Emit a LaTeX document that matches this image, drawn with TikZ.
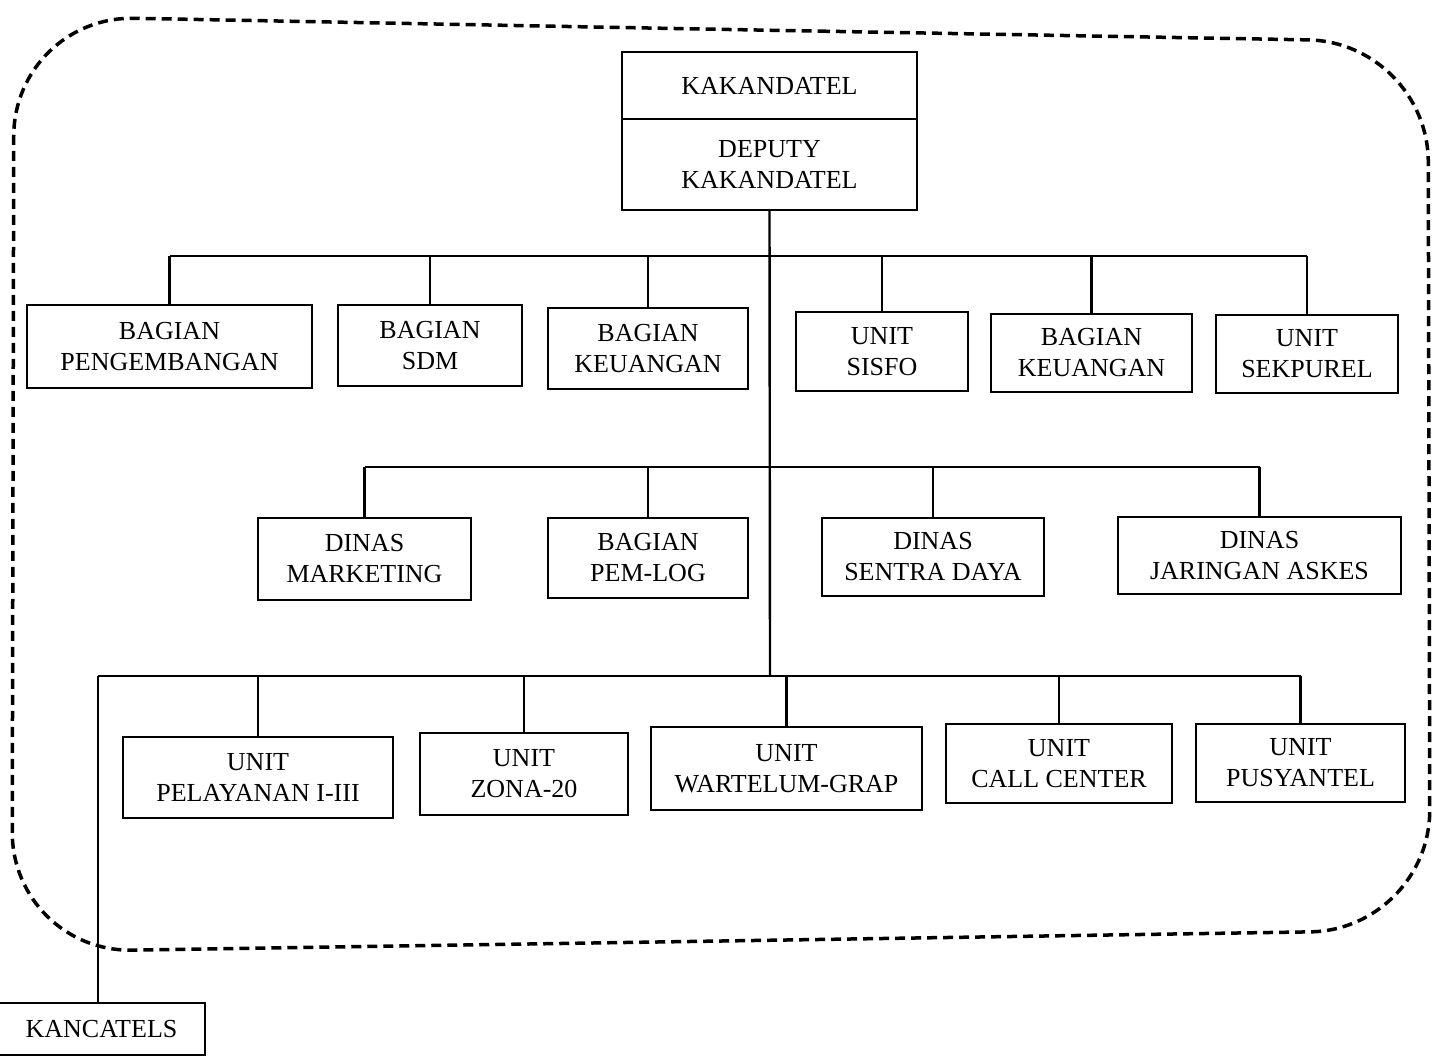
\documentclass[tikz,border=0pt]{standalone}
\usepackage{fontspec}
\setmainfont{Liberation Serif}
\begin{document}
\begin{tikzpicture}[x=1pt,y=-1pt,
  box/.style={draw, line width=2.4pt, align=center, font=\fontsize{26}{31}\selectfont, inner sep=0pt, fill=white},
  conn/.style={line width=2.4pt},
  border/.style={line width=3.5pt, dash pattern=on 10pt off 6pt, rounded corners=120pt}]
\useasboundingbox (0,0) rectangle (1434,1058);
\clip (0,0) rectangle (1434,1058);
\fill[white] (0,0) rectangle (1434,1058);
% dashed boundary
\draw[border] (700,29) -- (1428,42) -- (1430,930) -- (12,952) -- (14,16) -- cycle;
% top
\node[box, minimum width=295pt, minimum height=67pt] (kak) at (769.5,85.5) {KAKANDATEL};
\node[box, minimum width=295pt, minimum height=91pt] (dep) at (769.5,164.5) {DEPUTY\\KAKANDATEL};
% row 1
\node[box, minimum width=285pt, minimum height=83pt] (b1) at (169.5,346.5) {BAGIAN\\PENGEMBANGAN};
\node[box, minimum width=184pt, minimum height=81pt] (b2) at (430,345.5) {BAGIAN\\SDM};
\node[box, minimum width=200pt, minimum height=81pt] (b3) at (648,348.5) {BAGIAN\\KEUANGAN};
\node[box, minimum width=172pt, minimum height=79pt] (b4) at (882,351.5) {UNIT\\SISFO};
\node[box, minimum width=201pt, minimum height=78pt] (b5) at (1091.5,353) {BAGIAN\\KEUANGAN};
\node[box, minimum width=182pt, minimum height=78pt] (b6) at (1307,354) {UNIT\\SEKPUREL};
% row 2
\node[box, minimum width=213pt, minimum height=82pt] (c1) at (364.5,559) {DINAS\\MARKETING};
\node[box, minimum width=200pt, minimum height=80pt] (c2) at (648,558) {BAGIAN\\PEM-LOG};
\node[box, minimum width=222pt, minimum height=78pt] (c3) at (933,557) {DINAS\\SENTRA DAYA};
\node[box, minimum width=283pt, minimum height=77pt] (c4) at (1259.5,555.5) {DINAS\\JARINGAN ASKES};
% row 3
\node[box, minimum width=270pt, minimum height=81pt] (d1) at (258,777.5) {UNIT\\PELAYANAN I-III};
\node[box, minimum width=208pt, minimum height=82pt] (d2) at (524,774) {UNIT\\ZONA-20};
\node[box, minimum width=271pt, minimum height=83pt] (d3) at (786.5,768.5) {UNIT\\WARTELUM-GRAP};
\node[box, minimum width=226pt, minimum height=79pt] (d4) at (1059,763.5) {UNIT\\CALL CENTER};
\node[box, minimum width=209pt, minimum height=78pt] (d5) at (1300.5,763) {UNIT\\PUSYANTEL};
% kancatels
\node[box, minimum width=225pt, minimum height=52pt] (k) at (92.5,1029) {\hspace*{18pt}KANCATELS};
% bus coordinates
\coordinate (bus1) at (770,256);
\coordinate (bus2) at (770,467);
\coordinate (bus3) at (770,676);
\coordinate (kx) at (98,676);
% trunk
\draw[conn] (dep.south) -- (bus3);
% row 1 bus
\draw[conn] (b1.north |- bus1) -- (b6.north |- bus1);
\foreach \n in {b1,b2,b3,b4,b5,b6} \draw[conn] (\n.north |- bus1) -- (\n.north);
% row 2 bus
\draw[conn] (c1.north |- bus2) -- (c4.north |- bus2);
\foreach \n in {c1,c2,c3,c4} \draw[conn] (\n.north |- bus2) -- (\n.north);
% row 3 bus
\draw[conn] (kx) -- (d5.north |- bus3);
\foreach \n in {d1,d2,d3,d4,d5} \draw[conn] (\n.north |- bus3) -- (\n.north);
\draw[conn] (kx) -- (kx |- k.north);
\end{tikzpicture}
\end{document}
